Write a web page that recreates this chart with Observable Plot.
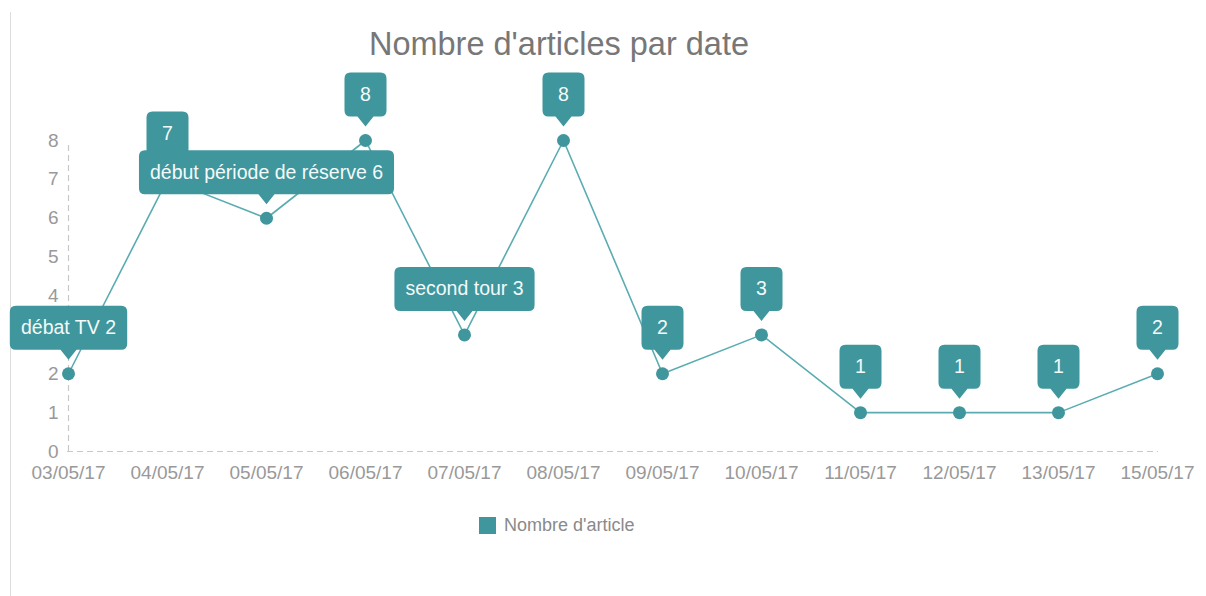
<!DOCTYPE html>
<html>
<head>
<meta charset="utf-8">
<script src="https://cdn.jsdelivr.net/npm/d3@7"></script>
<script src="https://cdn.jsdelivr.net/npm/@observablehq/plot@0.6"></script>
<style>
  body { margin: 0; background: #fff; font-family: "Liberation Sans", Arial, sans-serif; }
  #wrap { position: relative; width: 1206px; height: 596px; overflow: hidden; background: #fff; }
  #border { position: absolute; left: 10px; top: 12px; bottom: 0; border-left: 1px solid #ddd; }
  #title { position: absolute; left: 0; top: 28px; width: 1118px; text-align: center;
           font-size: 32.5px; line-height: 32px; color: #777; }
  #chart { position: absolute; left: 0; top: 70px; }
  #legend { position: absolute; left: 479px; top: 515px; display: flex; align-items: center;
            font-size: 18px; color: #8a8a8a; }
  #legend .sw { width: 17px; height: 17px; background: #3f969d; margin-right: 8px; }
</style>
</head>
<body>
<div id="wrap">
  <div id="border"></div>
  <div id="title">Nombre d'articles par date</div>
  <div id="chart"></div>
  <div id="legend"><span class="sw"></span><span>Nombre d'article</span></div>
</div>
<script>
const dates = ["03/05/17","04/05/17","05/05/17","06/05/17","07/05/17","08/05/17",
               "09/05/17","10/05/17","11/05/17","12/05/17","13/05/17","15/05/17"];
const counts = [2, 7, 6, 8, 3, 8, 2, 3, 1, 1, 1, 2];
const annotations = ["débat TV", "", "début période de réserve", "", "second tour", "",
                     "", "", "", "", "", ""];
const yTicks = [0, 1, 2, 3, 4, 5, 6, 7, 8];

const data = dates.map((d, i) => ({
  date: d,
  count: counts[i],
  label: (annotations[i] ? annotations[i] + " " : "") + counts[i]
}));

const TEAL = "#3f969d";
const LINE = "#5aacb1";
const FONT = "\"Liberation Sans\", Arial, sans-serif";
const LABEL_SIZE = 19.5;

const measureCtx = document.createElement("canvas").getContext("2d");
measureCtx.font = `${LABEL_SIZE}px "Liberation Sans"`;

function callout(index, scales, values, dimensions, context, next) {
  const g = next(index, scales, values, dimensions, context);
  const texts = g.querySelectorAll("text");
  const X = values.x, Y = values.y;
  index.forEach((i, k) => {
    const t = texts[k];
    if (!t) return;
    const w = Math.max(42, measureCtx.measureText(t.textContent).width + 22);
    const x = X[i], y = Y[i];
    const l = x - w / 2, r = x + w / 2, top = y - 22, bot = y + 22, rr = 6;
    const d = `M${l + rr},${top}H${r - rr}Q${r},${top} ${r},${top + rr}V${bot - rr}Q${r},${bot} ${r - rr},${bot}` +
              `H${x + 8}L${x},${y + 32}L${x - 8},${bot}H${l + rr}Q${l},${bot} ${l},${bot - rr}V${top + rr}Q${l},${top} ${l + rr},${top}Z`;
    const p = document.createElementNS("http://www.w3.org/2000/svg", "path");
    p.setAttribute("d", d);
    p.setAttribute("fill", TEAL);
    p.setAttribute("stroke", "none");
    g.insertBefore(p, t);
  });
  return g;
}

const plot = Plot.plot({
  width: 1206,
  height: 440,
  marginTop: 70,
  marginBottom: 59,
  marginLeft: 67,
  marginRight: 48,
  style: { fontFamily: FONT, fontSize: "19px", color: "#999", overflow: "visible", background: "transparent" },
  x: { type: "point", domain: dates, padding: 0, label: null },
  y: { domain: [0, 8], label: null },
  marks: [
    Plot.ruleY([0], { stroke: "#c8c8c8", strokeDasharray: "6,4", strokeWidth: 1.2 }),
    Plot.ruleX([dates[0]], { y1: 0, y2: 7.92, stroke: "#c8c8c8", strokeDasharray: "6,4", strokeWidth: 1.2 }),
    Plot.axisY({ ticks: yTicks, tickSize: 0, tickPadding: 9, fill: "#999", fontSize: 19, label: null }),
    Plot.axisX({ tickSize: 0, tickPadding: 14, fill: "#999", fontSize: 19, label: null }),
    Plot.line(data, { x: "date", y: "count", stroke: LINE, strokeWidth: 1.6 }),
    Plot.dot(data, { x: "date", y: "count", r: 6.5, fill: TEAL, stroke: "none" }),
    Plot.text(data, { x: "date", y: "count", text: "label", dy: -46, fill: "#f4fafa",
                      fontSize: LABEL_SIZE, fontFamily: FONT, render: callout })
  ]
});
document.getElementById("chart").appendChild(plot);
</script>
</body>
</html>
